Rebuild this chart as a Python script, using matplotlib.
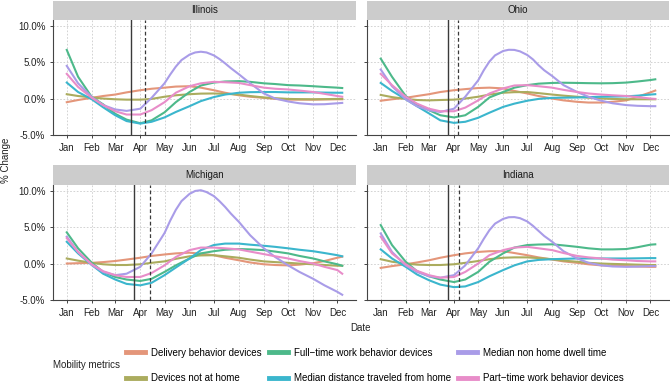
import matplotlib
matplotlib.use("Agg")
import matplotlib.pyplot as plt
import matplotlib.dates as mdates
from matplotlib.lines import Line2D
from matplotlib.ticker import FuncFormatter
import pandas as pd

plt.rcParams['font.family'] = ['Liberation Sans', 'DejaVu Sans']

# --- sample dates (roughly twice a month) ---
dates = pd.to_datetime([
    "2020-01-01", "2020-01-15", "2020-02-01", "2020-02-15", "2020-03-01", "2020-03-15",
    "2020-04-01", "2020-04-15", "2020-05-01", "2020-05-15", "2020-06-01", "2020-06-15",
    "2020-07-01", "2020-07-15", "2020-08-01", "2020-08-15", "2020-09-01", "2020-09-15",
    "2020-10-01", "2020-10-15", "2020-11-01", "2020-11-15", "2020-12-01", "2020-12-07",
])
# dwell time peaks sharply in June, so it is read weekly around the peak
dwell_dates = pd.to_datetime([
    "2020-01-01", "2020-01-15", "2020-02-01", "2020-02-15", "2020-03-01", "2020-03-15",
    "2020-04-01", "2020-04-15", "2020-05-01", "2020-05-08", "2020-05-15", "2020-05-22",
    "2020-06-01", "2020-06-08", "2020-06-15", "2020-06-22", "2020-07-01", "2020-07-08",
    "2020-07-15", "2020-07-22", "2020-08-01", "2020-08-15", "2020-09-01", "2020-09-15",
    "2020-10-01", "2020-10-15", "2020-11-01", "2020-11-15", "2020-12-01", "2020-12-07",
])

metrics = ["Delivery behavior devices", "Devices not at home", "Full\u2212time work behavior devices",
           "Median distance traveled from home", "Median non home dwell time",
           "Part\u2212time work behavior devices"]
colors = ["#e4967a", "#abac5e", "#4db98a", "#3bb6cd", "#a99ce8", "#e88dc9"]
states = ["Illinois", "Ohio", "Michigan", "Indiana"]

# --- % change per metric ---
il_delivery = [-0.5, -0.2, 0.1, 0.35, 0.55, 0.85, 1.15, 1.35, 1.5, 1.65, 1.7, 1.5,
               1.15, 0.8, 0.45, 0.25, 0.1, -0.05, -0.15, -0.15, -0.15, -0.12, -0.1, -0.1]
il_devices = [0.6, 0.35, 0.15, 0.0, -0.1, -0.15, -0.15, -0.05, 0.25, 0.45, 0.6, 0.68,
              0.7, 0.65, 0.55, 0.35, 0.15, 0.05, -0.05, -0.08, -0.1, -0.08, -0.05, -0.05]
il_fulltime = [6.7, 3.0, 0.2, -0.8, -2.1, -2.9, -3.4, -3.0, -1.9, -0.5, 0.9, 1.8,
               2.2, 2.35, 2.4, 2.3, 2.1, 2.0, 1.85, 1.8, 1.7, 1.6, 1.5, 1.45]
il_distance = [2.2, 0.9, -0.1, -1.2, -2.3, -3.1, -3.45, -3.2, -2.6, -1.85, -1.05, -0.35,
               0.2, 0.55, 0.8, 0.88, 0.9, 0.9, 0.85, 0.85, 0.85, 0.82, 0.8, 0.8]
il_dwell = [4.5, 2.1, 0.2, -0.9, -1.5, -1.7, -1.4, 0.1, 2.1, 3.3, 4.4, 5.3,
            6.05, 6.35, 6.45, 6.35, 5.95, 5.45, 4.85, 4.2, 3.35, 2.1, 0.7, 0.0,
            -0.4, -0.65, -0.8, -0.78, -0.65, -0.6]
il_parttime = [3.4, 1.6, 0.1, -0.9, -1.75, -2.2, -2.2, -1.6, -0.5, 0.8, 1.7, 2.1,
               2.3, 2.25, 2.15, 1.85, 1.5, 1.35, 1.25, 1.1, 0.9, 0.65, 0.35, 0.25]

oh_delivery = [-0.3, -0.1, 0.1, 0.35, 0.6, 0.9, 1.15, 1.3, 1.45, 1.5, 1.4, 1.05,
               0.7, 0.35, 0.0, -0.25, -0.45, -0.55, -0.55, -0.45, -0.25, 0.25, 0.85, 1.1]
oh_devices = [0.5, 0.2, -0.05, -0.2, -0.25, -0.2, -0.15, 0.0, 0.25, 0.55, 0.8, 0.88,
              0.9, 0.75, 0.55, 0.4, 0.25, 0.12, 0.0, -0.05, -0.1, -0.1, -0.1, -0.1]
oh_fulltime = [5.5, 3.0, 0.35, -0.9, -1.6, -2.3, -2.6, -2.3, -1.15, 0.15, 0.9, 1.5,
               1.85, 2.05, 2.15, 2.18, 2.15, 2.12, 2.1, 2.12, 2.2, 2.35, 2.55, 2.65]
oh_distance = [2.15, 1.05, -0.1, -1.05, -2.05, -3.0, -3.35, -3.2, -2.65, -1.95, -1.15, -0.7,
               -0.3, -0.05, 0.1, 0.12, 0.15, 0.2, 0.25, 0.27, 0.3, 0.4, 0.55, 0.6]
oh_dwell = [4.0, 1.7, -0.1, -1.05, -1.6, -1.85, -1.4, 0.25, 2.5, 3.9, 5.1, 5.95,
            6.55, 6.72, 6.7, 6.5, 6.0, 5.4, 4.6, 3.9, 3.1, 1.85, 0.9, 0.25,
            -0.3, -0.65, -0.9, -1.0, -1.05, -1.05]
oh_parttime = [3.4, 1.85, 0.25, -0.7, -1.4, -1.75, -1.75, -1.25, -0.25, 0.7, 1.4, 1.8,
               1.85, 1.7, 1.5, 1.2, 0.9, 0.7, 0.55, 0.45, 0.35, 0.2, 0.0, -0.05]

mi_delivery = [0.0, 0.05, 0.1, 0.2, 0.35, 0.55, 0.8, 1.05, 1.25, 1.4, 1.5, 1.35,
               1.15, 0.8, 0.45, 0.15, -0.1, -0.2, -0.25, -0.15, 0.05, 0.35, 0.8, 0.95]
mi_devices = [0.7, 0.4, 0.1, -0.1, -0.2, -0.2, -0.1, 0.1, 0.3, 0.65, 1.0, 1.12,
              1.15, 1.0, 0.8, 0.55, 0.3, 0.2, 0.1, 0.0, -0.1, -0.2, -0.3, -0.3]
mi_fulltime = [4.3, 2.1, 0.1, -1.15, -1.85, -2.2, -2.4, -2.1, -1.15, -0.25, 0.7, 1.4,
               1.7, 1.9, 2.0, 1.95, 1.85, 1.65, 1.4, 1.05, 0.7, 0.3, -0.1, -0.3]
mi_distance = [3.0, 1.4, -0.2, -1.4, -2.2, -2.8, -3.0, -2.65, -1.6, -0.55, 0.7, 1.85,
               2.55, 2.75, 2.75, 2.6, 2.45, 2.3, 2.1, 1.9, 1.7, 1.45, 1.15, 1.0]
mi_dwell = [3.7, 1.6, -0.2, -1.15, -1.6, -1.4, -0.45, 1.4, 4.2, 5.9, 7.4, 8.6,
            9.6, 10.0, 10.1, 9.85, 9.3, 8.6, 7.8, 6.9, 5.75, 3.9, 2.1, 0.9,
            -0.25, -1.15, -2.1, -3.0, -3.9, -4.3]
mi_parttime = [3.5, 1.6, -0.1, -1.05, -1.6, -1.85, -1.85, -1.3, -0.25, 0.9, 1.85, 2.2,
               2.2, 2.1, 1.95, 1.65, 1.3, 1.0, 0.7, 0.35, 0.0, -0.45, -0.9, -1.4]

in_delivery = [-0.6, -0.35, -0.1, 0.15, 0.45, 0.8, 1.15, 1.4, 1.6, 1.7, 1.7, 1.45,
               1.15, 0.85, 0.55, 0.3, 0.1, -0.1, -0.25, -0.3, -0.35, -0.4, -0.45, -0.45]
in_devices = [0.6, 0.25, 0.0, -0.15, -0.2, -0.2, -0.1, 0.1, 0.35, 0.6, 0.8, 0.85,
              0.85, 0.75, 0.6, 0.4, 0.25, 0.1, 0.0, -0.05, -0.1, -0.15, -0.2, -0.2]
in_fulltime = [5.3, 2.55, 0.25, -1.05, -1.75, -2.2, -2.55, -2.2, -1.15, 0.25, 1.4, 2.2,
               2.55, 2.62, 2.65, 2.5, 2.3, 2.1, 1.95, 1.95, 2.0, 2.25, 2.6, 2.65]
in_distance = [1.95, 0.7, -0.45, -1.5, -2.3, -2.9, -3.25, -3.15, -2.55, -1.75, -0.9, -0.25,
               0.3, 0.5, 0.6, 0.65, 0.7, 0.7, 0.7, 0.7, 0.7, 0.72, 0.75, 0.75]
in_dwell = [4.15, 1.6, -0.25, -1.15, -1.75, -1.95, -1.6, -0.25, 2.1, 3.4, 4.6, 5.5,
            6.15, 6.38, 6.4, 6.25, 5.8, 5.2, 4.5, 3.8, 3.0, 1.7, 0.7, 0.1,
            -0.25, -0.4, -0.45, -0.42, -0.35, -0.35]
in_parttime = [3.7, 1.4, -0.1, -1.0, -1.6, -1.95, -1.85, -1.15, 0.0, 1.15, 1.85, 2.2,
               2.3, 2.1, 1.85, 1.45, 1.05, 0.85, 0.7, 0.55, 0.45, 0.35, 0.3, 0.3]

data = {
    "Illinois": [il_delivery, il_devices, il_fulltime, il_distance, il_dwell, il_parttime],
    "Ohio": [oh_delivery, oh_devices, oh_fulltime, oh_distance, oh_dwell, oh_parttime],
    "Michigan": [mi_delivery, mi_devices, mi_fulltime, mi_distance, mi_dwell, mi_parttime],
    "Indiana": [in_delivery, in_devices, in_fulltime, in_distance, in_dwell, in_parttime],
}
series_dates = [dates, dates, dates, dates, dwell_dates, dates]

# stay-at-home order (solid) and follow-up date (dashed)
order_dates = {"Illinois": "2020-03-21", "Ohio": "2020-03-24",
               "Michigan": "2020-03-24", "Indiana": "2020-03-25"}
follow_dates = {"Illinois": "2020-04-07", "Ohio": "2020-04-06",
                "Michigan": "2020-04-13", "Indiana": "2020-04-07"}

# --- layout in pixels (left, top, right, bottom) ---
W, H = 670, 384
boxes = {"Illinois": (53, 20, 356, 135), "Ohio": (367, 20, 669, 135),
         "Michigan": (53, 185, 356, 300), "Indiana": (367, 185, 669, 300)}

fig = plt.figure(figsize=(W / 100, H / 100), dpi=100)

allv = [v for s in states for ser in data[s] for v in ser]
lo, hi = min(allv), max(allv)
pad = (hi - lo) * 0.05
span = dates[-1] - dates[0]
xpad = span * 0.05

for st in states:
    l, t, r, b = boxes[st]
    ax = fig.add_axes([l / W, 1 - b / H, (r - l) / W, (b - t) / H])
    for x, vals, c in zip(series_dates, data[st], colors):
        ax.plot(x, vals, color=c, lw=1.5, solid_joinstyle="round", zorder=3)
    ax.axvline(pd.Timestamp(order_dates[st]), color="#3a3a3a", lw=1.0, zorder=5)
    ax.axvline(pd.Timestamp(follow_dates[st]), color="#3a3a3a", lw=0.9,
               linestyle=(0, (3, 2)), zorder=5)
    ax.set_xlim(dates[0] - xpad, dates[-1] + xpad)
    ax.set_ylim(lo - pad, hi + pad)
    ax.set_yticks([-5, 0, 5, 10])
    ax.xaxis.set_major_locator(mdates.MonthLocator())
    ax.xaxis.set_major_formatter(mdates.DateFormatter("%b"))
    ax.yaxis.set_major_formatter(FuncFormatter(lambda v, p: f"{v:.1f}%"))
    ax.grid(True, linestyle=(0, (2, 2)), color="#cccccc", lw=0.6, zorder=0)
    for sp in ["top", "right"]:
        ax.spines[sp].set_visible(False)
    for sp in ["left", "bottom"]:
        ax.spines[sp].set_color("#444444")
        ax.spines[sp].set_linewidth(0.8)
    ax.tick_params(length=2.5, width=0.7, color="#444444", labelsize=7,
                   labelcolor="#222222", pad=3)
    if l > 100:
        ax.tick_params(axis="y", labelleft=False)

    # facet strip
    sax = fig.add_axes([l / W, 1 - t / H, (r - l) / W, 19.5 / H])
    sax.set_facecolor("#cccccc")
    sax.set_xticks([])
    sax.set_yticks([])
    for sp in sax.spines.values():
        sp.set_visible(False)
    sax.text(0.5, 0.5, st, ha="center", va="center", fontsize=7, color="#1a1a1a",
             transform=sax.transAxes)

fig.text(6 / W, 1 - 160 / H, "% Change", rotation=90, ha="center", va="center",
         fontsize=7, color="#222222")
fig.text(361 / W, 1 - 328 / H, "Date", ha="center", va="center", fontsize=7,
         color="#222222")

# --- legend ---
handles = [Line2D([0], [0], color=c, lw=3.5) for c in colors]
fig.text(53 / W, 1 - 365 / H, "Mobility metrics", ha="left", va="center",
         fontsize=7, color="#222222")
fig.legend(handles, metrics, ncol=3, loc="upper left",
           bbox_to_anchor=(126 / W, 1 - 347.5 / H), frameon=False, fontsize=7,
           handlelength=2.0, handletextpad=0.6, columnspacing=0.7,
           labelspacing=1.6, borderpad=0, borderaxespad=0)

fig.savefig("out.png", dpi=100)
